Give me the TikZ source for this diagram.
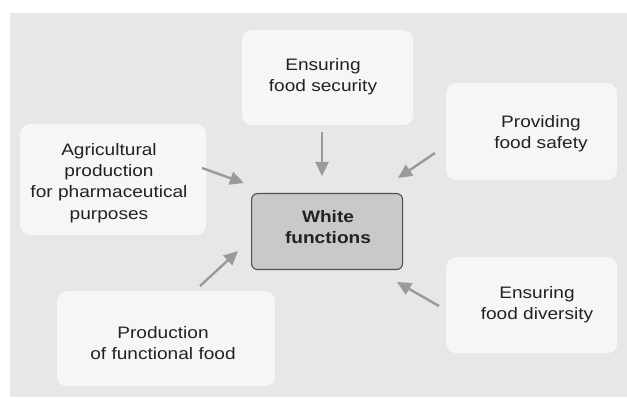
\documentclass[tikz,border=0pt]{standalone}
\usepackage{fontspec}
\setmainfont{Liberation Sans}[FakeStretch=1.15]
\usetikzlibrary{arrows.meta}
\definecolor{bggray}{HTML}{E6E7E8}
\definecolor{boxfill}{HTML}{F6F6F6}
\definecolor{centerfill}{HTML}{C9C9C9}
\definecolor{centerdraw}{HTML}{505050}
\definecolor{arrowgray}{HTML}{9A9A9A}
\definecolor{textdark}{HTML}{222222}
\begin{document}
\begin{tikzpicture}[x=1pt,y=-1pt,
  lightbox/.style={fill=boxfill,rounded corners=10pt,inner sep=0pt,anchor=north west},
  centerbox/.style={fill=centerfill,draw=centerdraw,line width=1.1pt,rounded corners=6pt,inner sep=0pt,anchor=north west},
  label text/.style={text=textdark,align=center,font=\fontsize{16.6}{21.2}\selectfont,inner sep=0pt},
  flow/.style={draw=arrowgray,line width=2.4pt,-{Triangle[length=14pt,width=13pt]}}]
\useasboundingbox (0,0) rectangle (627,398);
\fill[bggray] (10,13) rectangle (627,397);
% boxes
\node[lightbox,minimum width=171pt,minimum height=95pt] (top) at (242,30) {};
\node[lightbox,minimum width=171pt,minimum height=97pt] (safety) at (446,83) {};
\node[lightbox,minimum width=186pt,minimum height=111pt] (agri) at (20,124) {};
\node[lightbox,minimum width=218pt,minimum height=95pt] (prod) at (57,291) {};
\node[lightbox,minimum width=171pt,minimum height=96pt] (div) at (446,257) {};
\node[centerbox,minimum width=151pt,minimum height=76pt] (white) at (251,193) {};
% texts
\node[label text] (ttop) at (323,77) {Ensuring\\food security};
\node[label text] (tsafety) at (541,134) {Providing\\food safety};
\node[label text] (tagri) at (109,183) {Agricultural\\production\\for pharmaceutical\\purposes};
\node[label text] (tprod) at (163,343) {Production\\of functional food};
\node[label text] (tdiv) at (537,305) {Ensuring\\food diversity};
\node[label text,font=\fontsize{16.6}{21.2}\bfseries\selectfont] (twhite) at (328,227) {White\\functions};
% arrow ends
\coordinate (a1s) at (322,132); \coordinate (a1e) at (322,176);
\coordinate (a2s) at (435,153); \coordinate (a2e) at (398,178);
\coordinate (a3s) at (202,168); \coordinate (a3e) at (244,183);
\coordinate (a4s) at (200,286); \coordinate (a4e) at (238,251);
\coordinate (a5s) at (439,306); \coordinate (a5e) at (397,282);
\draw[flow] (a1s) -- (a1e);
\draw[flow] (a2s) -- (a2e);
\draw[flow] (a3s) -- (a3e);
\draw[flow] (a4s) -- (a4e);
\draw[flow] (a5s) -- (a5e);
\end{tikzpicture}
\end{document}
